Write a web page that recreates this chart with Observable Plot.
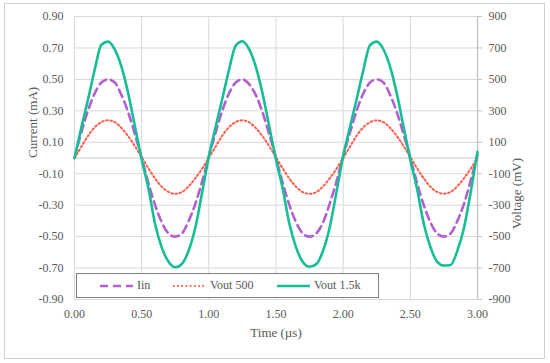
<!DOCTYPE html>
<html>
<head>
<meta charset="utf-8">
<script src="https://cdn.jsdelivr.net/npm/d3@7"></script>
<script src="https://cdn.jsdelivr.net/npm/@observablehq/plot@0.6"></script>
<style>
  html, body { margin: 0; padding: 0; background: #fff; }
  #wrap { position: relative; width: 550px; height: 363px; font-family: "Liberation Serif", serif; }
  #wrap svg text { font-family: "Liberation Serif", serif; font-variant-numeric: normal; }
  #frame { position: absolute; left: 4px; top: 3px; width: 539px; height: 354px; border: 1px solid #cfcfcf; pointer-events: none; }
  #legend { position: absolute; left: 76px; top: 273px; width: 303px; height: 25px; box-sizing: border-box;
            border: 1.3px solid #808080; background: #fff; color: #595959; font-size: 12px; }
  #legend .it { position: absolute; top: 0; height: 23px; display: flex; align-items: center; white-space: nowrap; }
  #legend svg { display: block; margin-right: 4px; }
</style>
</head>
<body>
<div id="wrap"><div id="frame"></div></div>
<script>
const time = [0.00,0.05,0.10,0.15,0.20,0.25,0.30,0.35,0.40,0.45,0.50,0.55,0.60,0.65,0.70,0.75,0.80,0.85,0.90,0.95,
              1.00,1.05,1.10,1.15,1.20,1.25,1.30,1.35,1.40,1.45,1.50,1.55,1.60,1.65,1.70,1.75,1.80,1.85,1.90,1.95,
              2.00,2.05,2.10,2.15,2.20,2.25,2.30,2.35,2.40,2.45,2.50,2.55,2.60,2.65,2.70,2.75,2.80,2.85,2.90,2.95,3.00];
// Iin (mA)
const iin = [0.00,0.16,0.30,0.41,0.48,0.50,0.48,0.40,0.29,0.15,0.00,-0.16,-0.30,-0.41,-0.48,-0.50,-0.48,-0.40,-0.29,-0.15,
             0.01,0.16,0.30,0.41,0.48,0.50,0.47,0.40,0.29,0.15,0.00,-0.16,-0.30,-0.41,-0.48,-0.50,-0.48,-0.41,-0.29,-0.15,
             0.01,0.16,0.30,0.41,0.48,0.50,0.48,0.40,0.29,0.15,0.00,-0.16,-0.30,-0.41,-0.48,-0.50,-0.48,-0.40,-0.29,-0.14,0.02];
// Vout 500 (mV)
const vout500 = [0,70,140,195,228,240,228,190,138,75,5,-65,-130,-183,-216,-228,-216,-180,-128,-68,
                 2,72,142,196,229,240,227,190,138,74,4,-66,-131,-184,-217,-228,-217,-181,-129,-69,
                 1,71,141,195,228,239,228,191,139,75,5,-65,-130,-183,-216,-227,-216,-180,-128,-68,0];
// Vout 1.5k (mV)
const vout1k5 = [0,190,370,560,720,740,690,580,410,200,-10,-190,-420,-570,-660,-695,-673,-588,-440,-220,
                 10,195,375,560,715,742,692,580,410,200,-10,-195,-420,-570,-662,-692,-675,-590,-440,-218,
                 12,195,372,558,718,740,690,578,408,198,-12,-195,-418,-568,-660,-684,-680,-590,-442,-215,40];

const yTicks = [0.9,0.7,0.5,0.3,0.1,-0.1,-0.3,-0.5,-0.7,-0.9];
const xTicks = [0,0.5,1,1.5,2,2.5,3];
const series = [
  {name: "Iin", color: "#b35fcf", width: 2.6, dash: "8,5"},
  {name: "Vout 500", color: "#ff5a4a", width: 2, dash: "1.6,2.6"},
  {name: "Vout 1.5k", color: "#17bd97", width: 2.6, dash: null}
];

const rows = time.map((t, i) => ({t, iin: iin[i], v500: vout500[i] / 1000, v1k5: vout1k5[i] / 1000}));

const grid = "#d9d9d9";
const chart = Plot.plot({
  width: 550, height: 363,
  marginLeft: 74, marginRight: 73, marginTop: 16, marginBottom: 64,
  style: {fontFamily: "'Liberation Serif', serif", fontSize: "12px", color: "#595959", background: "transparent"},
  x: {domain: [0, 3]},
  y: {domain: [-0.9, 0.9]},
  marks: [
    Plot.gridY(yTicks, {stroke: grid, strokeOpacity: 1, strokeWidth: 1}),
    Plot.gridX(xTicks, {stroke: grid, strokeOpacity: 1, strokeWidth: 1}),
    Plot.ruleY([0], {stroke: "#c8c8c8", strokeWidth: 1.2}),
    Plot.ruleX([3], {stroke: "#bfbfbf", strokeWidth: 1.2}),
    Plot.axisY(yTicks, {anchor: "left", tickSize: 0, tickPadding: 11, tickFormat: d => d.toFixed(2), label: null}),
    Plot.axisY(yTicks, {anchor: "right", tickSize: 4, tickPadding: 7, stroke: "#bfbfbf",
                        tickFormat: d => String(Math.round(d * 1000)), label: null}),
    Plot.axisX(xTicks, {anchor: "bottom", tickSize: 0, tickPadding: 10, tickFormat: d => d.toFixed(2), label: null}),
    Plot.text(["Current (mA)"], {frameAnchor: "left", dx: -42, rotate: -90, fontSize: 13, fill: "#595959"}),
    Plot.text(["Voltage (mV)"], {frameAnchor: "right", dx: 39, rotate: -90, fontSize: 13, fill: "#595959"}),
    Plot.text(["Time (µs)"], {frameAnchor: "bottom", dy: 37, fontSize: 13, fill: "#595959"}),
    Plot.line(rows, {x: "t", y: "iin", stroke: series[0].color, strokeWidth: series[0].width, strokeDasharray: series[0].dash, curve: "monotone-x"}),
    Plot.line(rows, {x: "t", y: "v500", stroke: series[1].color, strokeWidth: series[1].width, strokeDasharray: series[1].dash, curve: "monotone-x"}),
    Plot.line(rows, {x: "t", y: "v1k5", stroke: series[2].color, strokeWidth: series[2].width, curve: "monotone-x"})
  ]
});
const wrap = document.getElementById("wrap");
wrap.insertBefore(chart, wrap.firstChild);

// legend
const legend = document.createElement("div");
legend.id = "legend";
const lefts = [23, 96, 200];
series.forEach((s, i) => {
  const it = document.createElement("div");
  it.className = "it";
  it.style.left = lefts[i] + "px";
  const svg = d3.create("svg").attr("width", 33).attr("height", 6);
  svg.append("line").attr("x1", 0).attr("x2", 33).attr("y1", 3).attr("y2", 3)
    .attr("stroke", s.color).attr("stroke-width", s.width)
    .attr("stroke-dasharray", s.dash);
  it.appendChild(svg.node());
  const sp = document.createElement("span");
  sp.textContent = s.name;
  it.appendChild(sp);
  legend.appendChild(it);
});
wrap.appendChild(legend);
</script>
</body>
</html>
